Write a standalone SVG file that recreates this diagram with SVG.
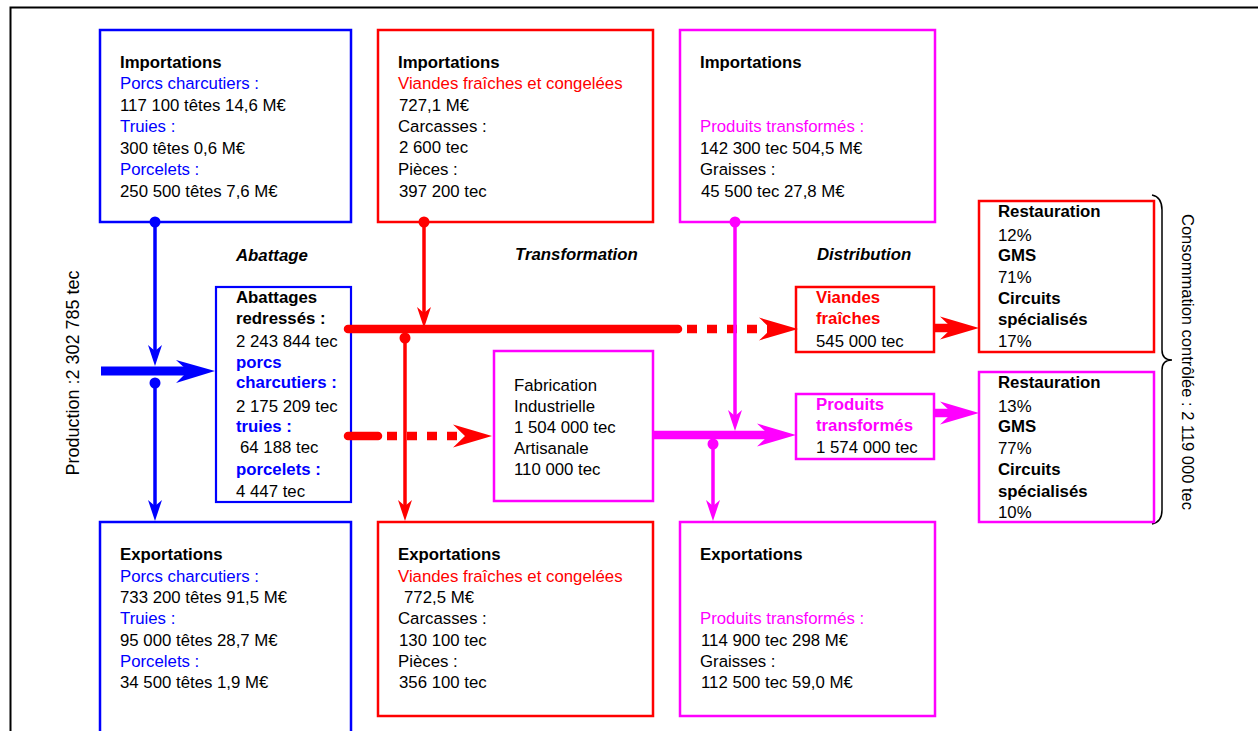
<svg xmlns="http://www.w3.org/2000/svg" width="1258" height="731" viewBox="0 0 1258 731">
  <style>
    .t { font-family: "Liberation Sans", Arial, sans-serif; font-size: 16.8px; fill: #000; }
    .b { font-weight: bold; }
    .sec { font-weight: bold; font-style: italic; }
    .bl { fill: #0000ff; }
    .rd { fill: #ff0000; }
    .mg { fill: #ff00ff; }
    .box { fill: #fff; stroke-width: 2.5; }
    .sb { stroke: #0000ff; }
    .sr { stroke: #ff0000; }
    .sm { stroke: #ff00ff; }
    .thin { stroke-width: 3.5; fill: none; }
    .thick { stroke-width: 8.5; fill: none; }
  </style>
  <defs>
    <marker id="bigBlue" markerUnits="userSpaceOnUse" orient="auto" overflow="visible" markerWidth="1" markerHeight="1" refX="0" refY="0">
      <path d="M20,0 L-19,-11.5 L-7,0 L-19,11.5 Z" fill="#0000ff"/>
    </marker>
    <marker id="bigRed" markerUnits="userSpaceOnUse" orient="auto" overflow="visible" markerWidth="1" markerHeight="1" refX="0" refY="0">
      <path d="M20,0 L-19,-11.5 L-7,0 L-19,11.5 Z" fill="#ff0000"/>
    </marker>
    <marker id="bigMag" markerUnits="userSpaceOnUse" orient="auto" overflow="visible" markerWidth="1" markerHeight="1" refX="0" refY="0">
      <path d="M20,0 L-19,-11.5 L-7,0 L-19,11.5 Z" fill="#ff00ff"/>
    </marker>
    <marker id="thinBlue" markerUnits="userSpaceOnUse" orient="auto" overflow="visible" markerWidth="1" markerHeight="1" refX="0" refY="0">
      <path d="M12,0 L-9,-7 L-3,0 L-9,7 Z" fill="#0000ff"/>
    </marker>
    <marker id="thinRed" markerUnits="userSpaceOnUse" orient="auto" overflow="visible" markerWidth="1" markerHeight="1" refX="0" refY="0">
      <path d="M12,0 L-9,-7 L-3,0 L-9,7 Z" fill="#ff0000"/>
    </marker>
    <marker id="thinMag" markerUnits="userSpaceOnUse" orient="auto" overflow="visible" markerWidth="1" markerHeight="1" refX="0" refY="0">
      <path d="M12,0 L-9,-7 L-3,0 L-9,7 Z" fill="#ff00ff"/>
    </marker>
  </defs>

  <rect width="1258" height="731" fill="#fff"/>
  <!-- outer frame -->
  <rect x="10.5" y="7.5" width="1260" height="740" fill="none" stroke="#000" stroke-width="2"/>

  <!-- side labels -->
  <text class="t" style="font-size:18px" text-anchor="middle" transform="translate(79,373) rotate(-90)">Production :2 302 785 tec</text>
  <text class="t" style="font-size:16.5px" text-anchor="middle" transform="translate(1182,362) rotate(90)">Consommation contrôlée : 2 119 000 tec</text>
  <path d="M1152,195 Q1162,197 1162,210 L1162,350 Q1162,360 1172,360 Q1162,360 1162,370 L1162,510 Q1162,522 1152,524" fill="none" stroke="#000" stroke-width="1.5"/>

  <!-- stage labels -->
  <text class="t sec" x="236" y="261">Abattage</text>
  <text class="t sec" x="515" y="260">Transformation</text>
  <text class="t sec" x="817" y="260">Distribution</text>

  <!-- import nodes -->
  <g id="import-porcs">
    <rect class="box sb" x="100" y="30" width="251" height="192"/>
    <text class="t b" x="120" y="68">Importations</text>
    <text class="t bl" x="120" y="89">Porcs charcutiers :</text>
    <text class="t" x="120" y="111">117 100 têtes 14,6 M€</text>
    <text class="t bl" x="120" y="132">Truies :</text>
    <text class="t" x="120" y="154">300 têtes 0,6 M€</text>
    <text class="t bl" x="120" y="175">Porcelets :</text>
    <text class="t" x="120" y="197">250 500 têtes 7,6 M€</text>
  </g>
  <g id="import-viandes">
    <rect class="box sr" x="378" y="30" width="275" height="192"/>
    <text class="t b" x="398" y="68">Importations</text>
    <text class="t rd" x="398" y="89">Viandes fraîches et congelées</text>
    <text class="t" x="399" y="111">727,1 M€</text>
    <text class="t" x="398" y="132">Carcasses :</text>
    <text class="t" x="399" y="153">2 600 tec</text>
    <text class="t" x="398" y="175">Pièces :</text>
    <text class="t" x="399" y="197">397 200 tec</text>
  </g>
  <g id="import-produits">
    <rect class="box sm" x="680" y="30" width="255" height="192"/>
    <text class="t b" x="700" y="68">Importations</text>
    <text class="t mg" x="700" y="132">Produits transformés :</text>
    <text class="t" x="700" y="154">142 300 tec 504,5 M€</text>
    <text class="t" x="700" y="175">Graisses :</text>
    <text class="t" x="701" y="197">45 500 tec 27,8 M€</text>
  </g>

  <!-- processing nodes -->
  <g id="abattage">
    <rect class="box sb" x="216" y="287" width="135" height="215" style="stroke-width:2.2"/>
    <text class="t b" x="236" y="303">Abattages</text>
    <text class="t b" x="236" y="324">redressés :</text>
    <text class="t" x="236" y="347">2 243 844 tec</text>
    <text class="t b bl" x="236" y="368">porcs</text>
    <text class="t b bl" x="236" y="388">charcutiers :</text>
    <text class="t" x="236" y="412">2 175 209 tec</text>
    <text class="t b bl" x="236" y="432">truies :</text>
    <text class="t" x="240" y="453">64 188 tec</text>
    <text class="t b bl" x="236" y="475">porcelets :</text>
    <text class="t" x="236" y="497">4 447 tec</text>
  </g>
  <g id="fabrication">
    <rect class="box sm" x="494" y="351" width="159" height="150"/>
    <text class="t" x="514" y="391">Fabrication</text>
    <text class="t" x="514" y="412">Industrielle</text>
    <text class="t" x="514" y="433">1 504 000 tec</text>
    <text class="t" x="514" y="454">Artisanale</text>
    <text class="t" x="514" y="475">110 000 tec</text>
  </g>
  <g id="dist-viandes">
    <rect class="box sr" x="796" y="287" width="138" height="65"/>
    <text class="t b rd" x="816" y="303">Viandes</text>
    <text class="t b rd" x="816" y="324">fraîches</text>
    <text class="t" x="816" y="347">545 000 tec</text>
  </g>
  <g id="dist-produits">
    <rect class="box sm" x="796" y="394" width="138" height="65"/>
    <text class="t b mg" x="816" y="410">Produits</text>
    <text class="t b mg" x="816" y="431">transformés</text>
    <text class="t" x="816" y="453">1 574 000 tec</text>
  </g>

  <!-- consumption nodes -->
  <g id="conso-viandes">
    <rect class="box sr" x="979" y="201" width="175" height="151"/>
    <text class="t b" x="998" y="217">Restauration</text>
    <text class="t" x="998" y="241">12%</text>
    <text class="t b" x="998" y="261">GMS</text>
    <text class="t" x="998" y="283">71%</text>
    <text class="t b" x="998" y="304">Circuits</text>
    <text class="t b" x="998" y="325">spécialisés</text>
    <text class="t" x="998" y="347">17%</text>
  </g>
  <g id="conso-produits">
    <rect class="box sm" x="979" y="372" width="175" height="150"/>
    <text class="t b" x="998" y="388">Restauration</text>
    <text class="t" x="998" y="412">13%</text>
    <text class="t b" x="998" y="432">GMS</text>
    <text class="t" x="998" y="454">77%</text>
    <text class="t b" x="998" y="475">Circuits</text>
    <text class="t b" x="998" y="497">spécialisés</text>
    <text class="t" x="998" y="518">10%</text>
  </g>

  <!-- export nodes -->
  <g id="export-porcs">
    <rect class="box sb" x="100" y="522" width="251" height="220"/>
    <text class="t b" x="120" y="560">Exportations</text>
    <text class="t bl" x="120" y="582">Porcs charcutiers :</text>
    <text class="t" x="120" y="603">733 200 têtes 91,5 M€</text>
    <text class="t bl" x="120" y="624">Truies :</text>
    <text class="t" x="120" y="646">95 000 têtes 28,7 M€</text>
    <text class="t bl" x="120" y="667">Porcelets :</text>
    <text class="t" x="120" y="688">34 500 têtes 1,9 M€</text>
  </g>
  <g id="export-viandes">
    <rect class="box sr" x="378" y="522" width="275" height="194"/>
    <text class="t b" x="398" y="560">Exportations</text>
    <text class="t rd" x="398" y="582">Viandes fraîches et congelées</text>
    <text class="t" x="404" y="603">772,5 M€</text>
    <text class="t" x="398" y="624">Carcasses :</text>
    <text class="t" x="399" y="646">130 100 tec</text>
    <text class="t" x="398" y="667">Pièces :</text>
    <text class="t" x="399" y="688">356 100 tec</text>
  </g>
  <g id="export-produits">
    <rect class="box sm" x="680" y="522" width="255" height="194"/>
    <text class="t b" x="700" y="560">Exportations</text>
    <text class="t mg" x="700" y="624">Produits transformés :</text>
    <text class="t" x="701" y="646">114 900 tec 298 M€</text>
    <text class="t" x="700" y="667">Graisses :</text>
    <text class="t" x="701" y="688">112 500 tec 59,0 M€</text>
  </g>

  <!-- flows -->
  <g id="connectors">
    <!-- fresh meat (red) -->
    <line class="thick sr" x1="348" y1="329" x2="678" y2="329" stroke-linecap="round"/>
    <line class="thick sr" x1="687" y1="329" x2="778" y2="329" stroke-dasharray="10 10" marker-end="url(#bigRed)"/>
    <line class="thick sr" x1="348" y1="436" x2="378" y2="436" stroke-linecap="round"/>
    <line class="thick sr" x1="387" y1="436" x2="472" y2="436" stroke-dasharray="10 10" marker-end="url(#bigRed)"/>
    <line class="thick sr" x1="934" y1="328" x2="959" y2="328" marker-end="url(#bigRed)"/>
    <circle cx="424" cy="222" r="5.5" fill="#ff0000"/>
    <line class="thin sr" x1="424" y1="222" x2="424" y2="316" marker-end="url(#thinRed)"/>
    <circle cx="405" cy="338" r="5.5" fill="#ff0000"/>
    <line class="thin sr" x1="405" y1="338" x2="405" y2="509" marker-end="url(#thinRed)"/>

    <!-- processed products (magenta) -->
    <line class="thick sm" x1="653" y1="435" x2="776" y2="435" marker-end="url(#bigMag)"/>
    <line class="thick sm" x1="934" y1="413" x2="959" y2="413" marker-end="url(#bigMag)"/>
    <circle cx="735" cy="222" r="5.5" fill="#ff00ff"/>
    <line class="thin sm" x1="735" y1="222" x2="735" y2="419" marker-end="url(#thinMag)"/>
    <circle cx="713" cy="444" r="5.5" fill="#ff00ff"/>
    <line class="thin sm" x1="713" y1="444" x2="713" y2="509" marker-end="url(#thinMag)"/>

    <!-- live pigs (blue) -->
    <line class="thick sb" x1="101" y1="371" x2="195" y2="371" style="stroke-width:9"/>
    <polygon points="215,371 176,360 188,371 176,383" fill="#0000ff"/>
    <circle cx="155" cy="222" r="5.5" fill="#0000ff"/>
    <line class="thin sb" x1="155" y1="222" x2="155" y2="354" marker-end="url(#thinBlue)"/>
    <circle cx="155" cy="383" r="5.5" fill="#0000ff"/>
    <line class="thin sb" x1="155" y1="383" x2="155" y2="509" marker-end="url(#thinBlue)"/>
  </g>
</svg>
